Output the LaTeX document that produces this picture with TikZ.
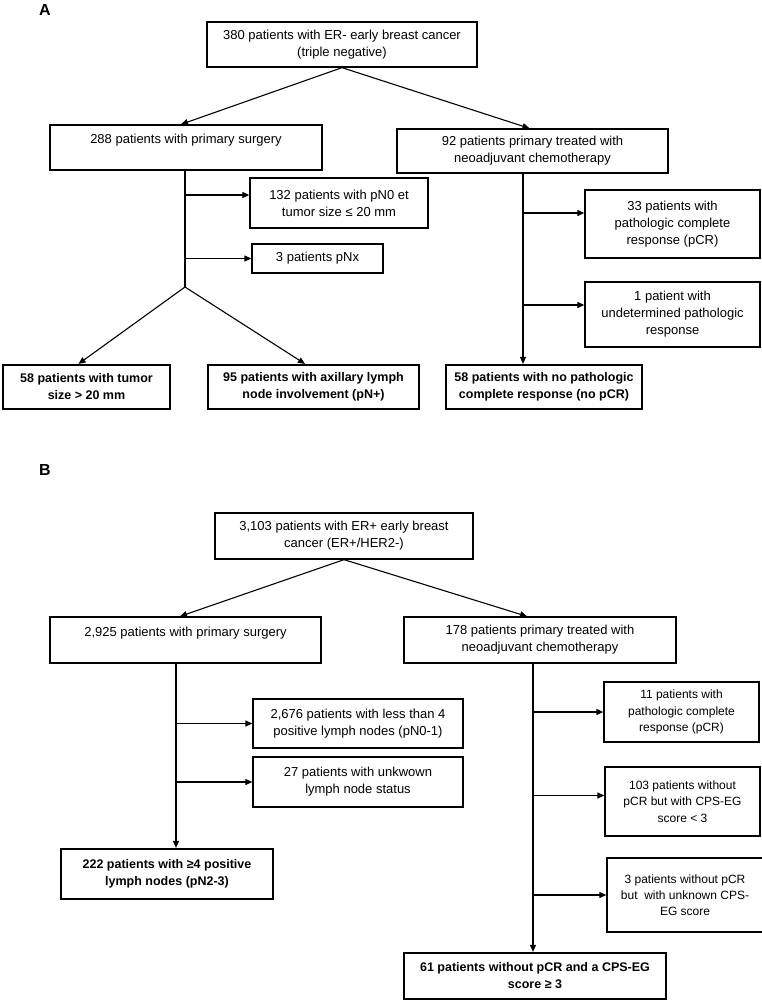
\documentclass[tikz,border=0pt]{standalone}
\usepackage{fontspec}
\setmainfont{Liberation Sans}
\usetikzlibrary{arrows.meta}

\begin{document}
\begin{tikzpicture}[x=1pt, y=-1pt, line join=miter, >={Triangle[length=7pt,width=6pt]},
    font=\fontsize{13}{17}\selectfont,
    box/.style={draw, line width=1.3pt, align=center, inner sep=2pt},
    smallbox/.style={box, font=\fontsize{12}{16.3}\selectfont},
    endbox/.style={box, line width=2.2pt, font=\fontsize{12.5}{17}\selectfont\bfseries},
    link/.style={->, line width=1.1pt},
    panel/.style={font=\fontsize{16}{18}\selectfont\bfseries}]
    \useasboundingbox (0,0) rectangle (762,1000);
    % panel A
    \node[panel] (labA) at (45,10) {A};
    \node[box, minimum width=270pt, minimum height=45pt] (topA) at (342,44.5) {380 patients with ER- early breast cancer\\(triple negative)};
    \node[box, minimum width=272pt, minimum height=45pt] (surgA) at (186,147.5) {288 patients with primary surgery\\\mbox{}};
    \node[box, minimum width=271pt, minimum height=44pt] (neoA) at (532.5,151) {92 patients primary treated with\\neoadjuvant chemotherapy};
    \node[box, minimum width=178pt, minimum height=50pt] (pn0A) at (339,203) {132 patients with pN0 et\\tumor size ≤ 20 mm};
    \node[box, minimum width=131pt, minimum height=29pt] (pnxA) at (317.5,258.5) {3 patients pNx};
    \node[box, minimum width=175pt, minimum height=68pt] (pcrA) at (672.5,224) {33 patients with\\pathologic complete\\response (pCR)};
    \node[box, minimum width=175pt, minimum height=65pt] (undA) at (672.5,314.5) {1 patient with\\undetermined pathologic\\response};
    \node[endbox, minimum width=167pt, minimum height=44pt] (tumA) at (86.5,387) {58 patients with tumor\\size > 20 mm};
    \node[endbox, minimum width=211pt, minimum height=44pt] (axA) at (313.5,387) {95 patients with axillary lymph\\node involvement (pN+)};
    \node[endbox, minimum width=196pt, minimum height=44pt] (nopA) at (544,387) {58 patients with no pathologic\\complete response (no pCR)};
    \coordinate (trAL) at ([xshift=-1pt]surgA.south);
    \coordinate (brA) at (185,287);
    \coordinate (trAR) at ([xshift=-9.5pt]neoA.south);
    \draw[link] (topA.south) -- ([xshift=-5pt]surgA.north);
    \draw[link] (topA.south) -- ([xshift=-3pt]neoA.north);
    \draw[line width=1.1pt] (trAL) -- (brA);
    \draw[link] ([yshift=8pt]pn0A.west -| brA) -- ([yshift=8pt]pn0A.west);
    \draw[link] (brA |- pnxA.west) -- (pnxA.west);
    \draw[link] (brA) -- ([xshift=-8pt]tumA.north);
    \draw[link] (brA) -- ([xshift=-8.5pt]axA.north);
    \draw[link] (trAR) -- (trAR |- nopA.north);
    \draw[link] ([yshift=11pt]pcrA.west -| trAR) -- ([yshift=11pt]pcrA.west);
    \draw[link] ([yshift=9.5pt]undA.west -| trAR) -- ([yshift=9.5pt]undA.west);
    % panel B
    \node[panel] (labB) at (45,470) {B};
    \node[box, minimum width=258pt, minimum height=46pt] (topB) at (344,536) {3,103 patients with ER+ early breast\\cancer (ER+/HER2-)};
    \node[box, minimum width=271pt, minimum height=46pt] (surgB) at (185.5,640) {2,925 patients with primary surgery\\\mbox{}};
    \node[box, minimum width=272pt, minimum height=46pt] (neoB) at (540,640) {178 patients primary treated with\\neoadjuvant chemotherapy};
    \node[box, minimum width=210pt, minimum height=49pt] (lessB) at (358,723.5) {2,676 patients with less than 4\\positive lymph nodes (pN0-1)};
    \node[box, minimum width=210pt, minimum height=50pt] (unkB) at (358,782) {27 patients with unkwown\\lymph node status};
    \node[smallbox, minimum width=155pt, minimum height=60pt] (pcrB) at (681.5,712) {11 patients with\\pathologic complete\\response (pCR)};
    \node[smallbox, minimum width=155pt, minimum height=69pt] (cpsB) at (682.5,801.5) {103 patients without\\pCR but with CPS-EG\\score < 3};
    \node[smallbox, minimum width=156pt, minimum height=74pt] (unkcB) at (685,895) {3 patients without pCR\\but~ with unknown CPS-\\EG score};
    \node[endbox, minimum width=212pt, minimum height=50pt] (n222B) at (167,874) {222 patients with ≥4 positive\\lymph nodes (pN2-3)};
    \node[endbox, minimum width=262pt, minimum height=46pt] (n61B) at (535,976) {61 patients without pCR and a CPS-EG\\score ≥ 3};
    \coordinate (trBL) at ([xshift=-9.5pt]surgB.south);
    \coordinate (trBR) at ([xshift=-7pt]neoB.south);
    \draw[link] (topB.south) -- ([xshift=-5.5pt]surgB.north);
    \draw[link] (topB.south) -- ([xshift=-13pt]neoB.north);
    \draw[link] (trBL) -- (trBL |- n222B.north);
    \draw[link] (trBL |- lessB.west) -- (lessB.west);
    \draw[link] (trBL |- unkB.west) -- (unkB.west);
    \draw[link] (trBR) -- (trBR |- n61B.north);
    \draw[link] (trBR |- pcrB.west) -- (pcrB.west);
    \draw[link] ([yshift=6pt]cpsB.west -| trBR) -- ([yshift=6pt]cpsB.west);
    \draw[link] (trBR |- unkcB.west) -- (unkcB.west);
\end{tikzpicture}
\end{document}
